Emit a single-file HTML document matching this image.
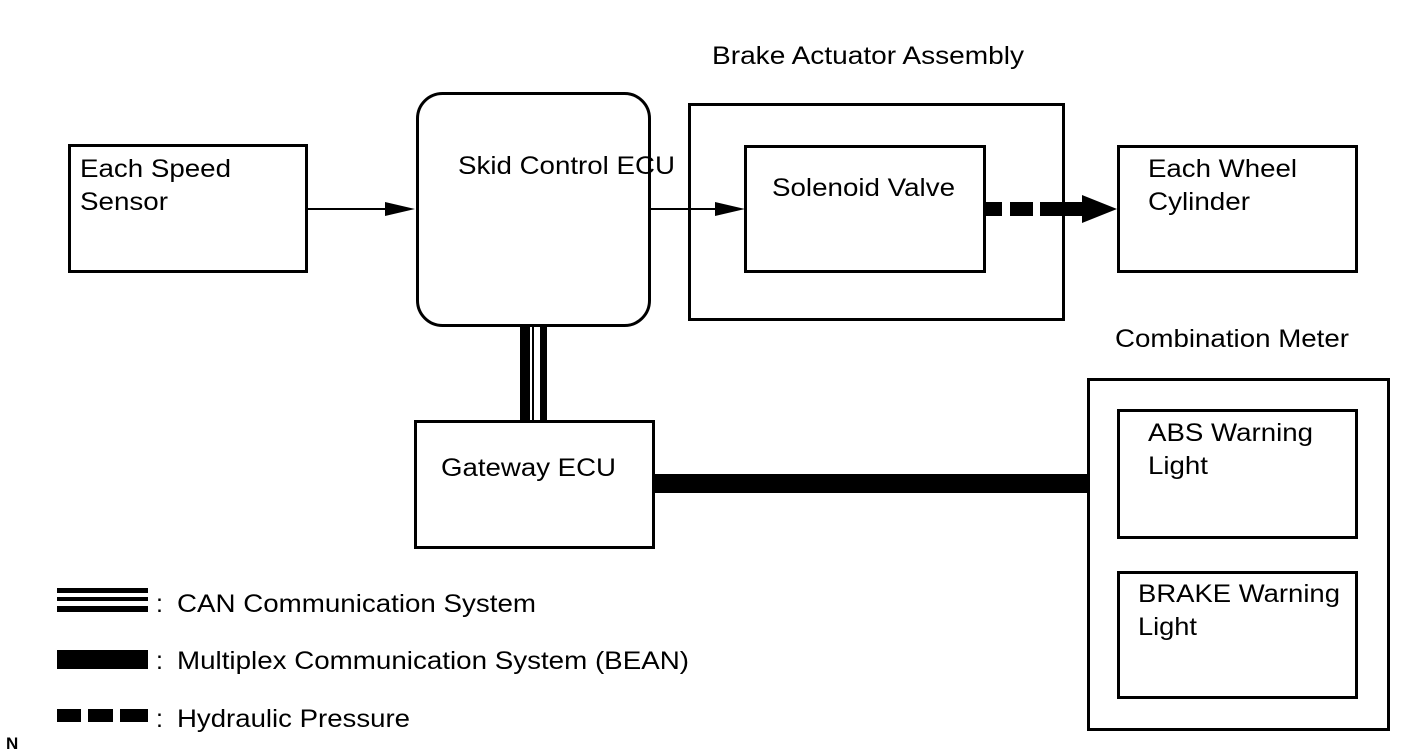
<!DOCTYPE html>
<html><head><meta charset="utf-8"><style>
html,body{margin:0;padding:0;background:#fff;}
svg{display:block;}
text{font-family:"Liberation Sans",Arial,sans-serif;font-size:25px;fill:#000;}
</style></head><body>
<svg width="1421" height="756" viewBox="0 0 1421 756" xmlns="http://www.w3.org/2000/svg">
<g fill="none" stroke="#000" stroke-width="3">
<rect x="69.5" y="145.5" width="237" height="126"/>
<rect x="417.5" y="93.5" width="232" height="232" rx="25"/>
<rect x="689.5" y="104.5" width="374" height="215"/>
<rect x="745.5" y="146.5" width="239" height="125"/>
<rect x="1118.5" y="146.5" width="238" height="125"/>
<rect x="415.5" y="421.5" width="238" height="126"/>
<rect x="1088.5" y="379.5" width="300" height="350"/>
<rect x="1118.5" y="410.5" width="238" height="127"/>
<rect x="1118.5" y="572.5" width="238" height="125"/>
<line x1="307" y1="209" x2="390" y2="209" stroke-width="2"/>
<line x1="650" y1="209" x2="720" y2="209" stroke-width="2"/>
</g>
<polygon points="385,202 415,209 385,216" fill="#000"/>
<polygon points="715,202 745,209 715,216" fill="#000"/>
<rect x="520" y="326" width="10" height="96" fill="#000"/>
<rect x="532" y="326" width="2" height="96" fill="#000"/>
<rect x="540" y="326" width="7" height="96" fill="#000"/>
<rect x="654" y="474" width="434" height="19" fill="#000"/>
<rect x="985" y="202" width="17" height="14" fill="#000"/>
<rect x="1010" y="202" width="23" height="14" fill="#000"/>
<rect x="1040" y="202" width="44" height="14" fill="#000"/>
<polygon points="1082,195 1117,209 1082,223" fill="#000"/>
<rect x="57" y="588" width="91" height="5" fill="#000"/>
<rect x="57" y="597" width="91" height="4" fill="#000"/>
<rect x="57" y="606" width="91" height="6" fill="#000"/>
<rect x="57" y="650" width="91" height="19" fill="#000"/>
<rect x="57" y="709" width="24" height="13" fill="#000"/>
<rect x="88" y="709" width="25" height="13" fill="#000"/>
<rect x="120" y="709" width="28" height="13" fill="#000"/>
<text x="80" y="177" textLength="151" lengthAdjust="spacingAndGlyphs">Each Speed</text>
<text x="80" y="210" textLength="88" lengthAdjust="spacingAndGlyphs">Sensor</text>
<text x="458" y="174" textLength="217" lengthAdjust="spacingAndGlyphs">Skid Control ECU</text>
<text x="712" y="64" textLength="312" lengthAdjust="spacingAndGlyphs">Brake Actuator Assembly</text>
<text x="772" y="196" textLength="183" lengthAdjust="spacingAndGlyphs">Solenoid Valve</text>
<text x="1148" y="177" textLength="149" lengthAdjust="spacingAndGlyphs">Each Wheel</text>
<text x="1148" y="210" textLength="102" lengthAdjust="spacingAndGlyphs">Cylinder</text>
<text x="1115" y="347" textLength="234" lengthAdjust="spacingAndGlyphs">Combination Meter</text>
<text x="441" y="476" textLength="175" lengthAdjust="spacingAndGlyphs">Gateway ECU</text>
<text x="1148" y="441" textLength="165" lengthAdjust="spacingAndGlyphs">ABS Warning</text>
<text x="1148" y="474" textLength="60" lengthAdjust="spacingAndGlyphs">Light</text>
<text x="1138" y="602" textLength="202" lengthAdjust="spacingAndGlyphs">BRAKE Warning</text>
<text x="1138" y="635" textLength="59" lengthAdjust="spacingAndGlyphs">Light</text>
<text x="156" y="612">:</text>
<text x="177" y="612" textLength="359" lengthAdjust="spacingAndGlyphs">CAN Communication System</text>
<text x="156" y="669">:</text>
<text x="177" y="669" textLength="512" lengthAdjust="spacingAndGlyphs">Multiplex Communication System (BEAN)</text>
<text x="156" y="727">:</text>
<text x="177" y="727" textLength="233" lengthAdjust="spacingAndGlyphs">Hydraulic Pressure</text>
<text x="6" y="749" style="font-size:17px;font-weight:bold">N</text>
</svg>
</body></html>
